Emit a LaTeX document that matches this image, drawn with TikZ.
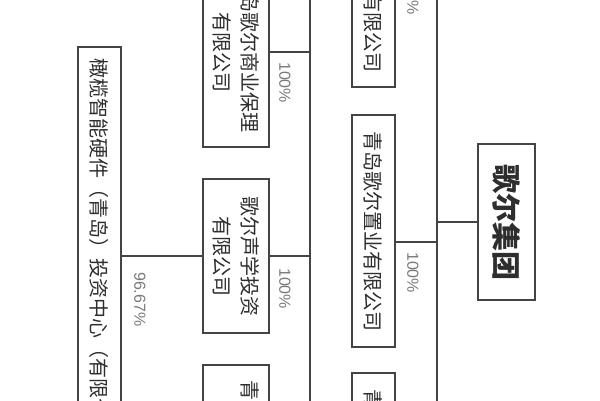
\documentclass[tikz,border=0pt]{standalone}
\usepackage{fontspec}
\setmainfont{Liberation Sans}
\newfontfamily\cjk{Noto Sans CJK SC}
\definecolor{boxline}{HTML}{444444}
\definecolor{txt}{HTML}{2E2E2E}
\definecolor{lbl}{HTML}{7A7A7A}
\tikzset{
  orgbox/.style={draw=boxline, line width=1.3pt, rotate=-90, inner sep=0pt, align=center, text=txt, font=\cjk\fontsize{20}{28}\selectfont},
  conn/.style={draw=boxline, line width=1.3pt},
  pct/.style={rotate=-90, text=lbl, font=\fontsize{16}{16}\selectfont, inner sep=0pt},
}
\begin{document}
\begin{tikzpicture}[x=1pt,y=-1pt]
\clip (0,0) rectangle (600,400);
\fill[white] (0,0) rectangle (600,400);
% buses
\coordinate (b1t) at (437,-10);
\coordinate (b1b) at (437,410);
\coordinate (b2t) at (310,-10);
\coordinate (b2b) at (310,410);
\draw[conn] (b1t) -- (b1b);
\draw[conn] (b2t) -- (b2b);
% boxes
\node[orgbox, minimum width=156, minimum height=57, font=\cjk\bfseries\fontsize{29}{29}\selectfont] (jt) at (506.5,222) {歌尔集团};
\node[orgbox, minimum width=270, minimum height=43] (L2a) at (373.5,-48) {青岛歌尔投资发展有限公司};
\node[orgbox, minimum width=232, minimum height=43] (L2b) at (373.5,231) {青岛歌尔置业有限公司};
\node[orgbox, minimum width=232, minimum height=43] (L2c) at (373.5,489) {青岛歌尔电子有限公司};
\node[orgbox, minimum width=190, minimum height=66] (L3a) at (236,52) {青岛歌尔商业保理\\有限公司};
\node[orgbox, minimum width=154, minimum height=66] (L3b) at (236,256) {歌尔声学投资\\有限公司};
\node[orgbox, minimum width=190, minimum height=66] (L3c) at (236,460) {青岛歌尔创业投资\\有限公司};
\node[orgbox, minimum width=422, minimum height=43] (L4) at (99.5,258) {橄榄智能硬件（青岛）投资中心（有限合伙）};
% connectors
\draw[conn] (jt.south) -- (jt.south -| b1t);
\coordinate (c2b) at (437,242);
\draw[conn] (c2b) -- (c2b -| L2b.north);
\draw[conn] (L3a.north) -- (L3a.north -| b2t);
\draw[conn] (L3b.north) -- (L3b.north -| b2t);
\draw[conn] (L3b.south) -- (L3b.south -| L4.north);
% labels
\node[pct, anchor=east] (p2a) at (413,15) {100\%};
\node[pct, anchor=west] (p2b) at (413,252) {100\%};
\node[pct, anchor=west] (p3a) at (285,62) {100\%};
\node[pct, anchor=west] (p3b) at (285,268) {100\%};
\node[pct, anchor=west] (p4) at (140,272) {96.67\%};
\end{tikzpicture}
\end{document}
